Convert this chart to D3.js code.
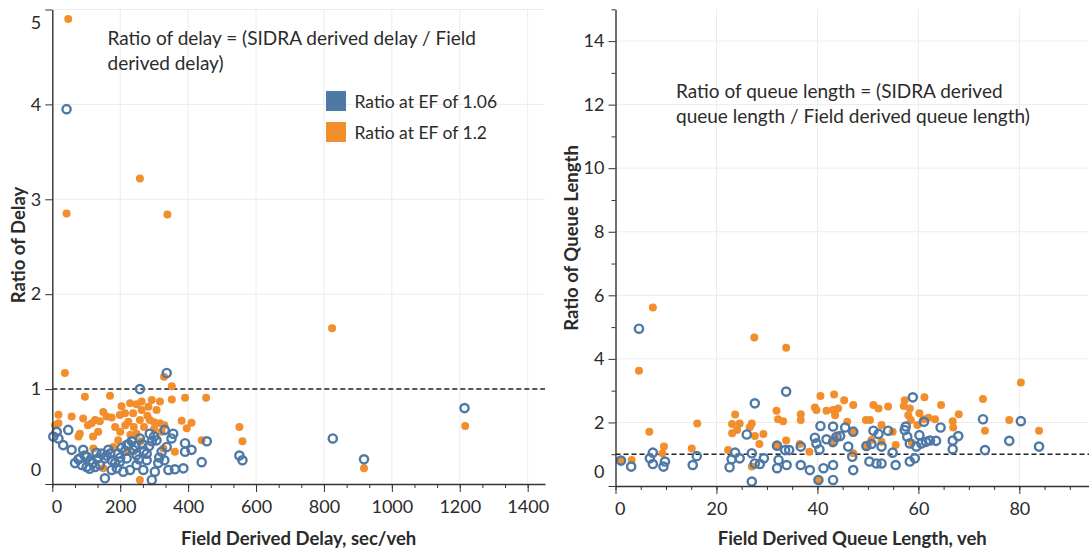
<!DOCTYPE html>
<html><head><meta charset="utf-8">
<script src="https://cdn.jsdelivr.net/npm/d3@7"></script>
<style>
body{margin:0;background:#fff}
text{font-family:Lato,"Noto Sans",sans-serif;fill:#2b2b2b}
</style>
</head><body>
<svg id="c" width="1089" height="550"></svg>
<script>
// ---------- DATA ----------
const delayTicks = [0,200,400,600,800,1000,1200,1400];
const delayRatioTicks = [0,1,2,3,4,5];
const queueTicks = [0,20,40,60,80];
const queueRatioTicks = [0,2,4,6,8,10,12,14];
const seriesNames = ["Ratio at EF of 1.06","Ratio at EF of 1.2"];

// [Field derived delay (sec/veh), ratio of delay]
const delayEF106 = [
 [42,3.95],[1214,0.80],[826,0.48],[918,0.26],[551,0.30],[560,0.25],[455,0.45],[440,0.23],[337,1.17],[258,1.0],
 [3,0.50],[13,0.55],[47,0.57],[18,0.48],[32,0.41],[57,0.36],[91,0.36],[77,0.26],[101,0.29],[101,0.18],[126,0.18],
 [135,0.27],[165,0.36],[155,0.27],[175,0.25],[155,0.06],[194,0.32],[204,0.38],[219,0.41],[234,0.45],[258,0.48],
 [287,0.53],[307,0.46],[331,0.57],[356,0.53],[351,0.48],[391,0.43],[410,0.36],[391,0.34],[190,0.165],[199,0.235],
 [229,0.148],[248,0.2],[268,0.148],[293,0.042],[302,0.13],[312,0.22],[342,0.148],[361,0.155],[386,0.165],[278,0.32],
 [248,0.305],[219,0.27],[175,0.148],[209,0.13],[322,0.34],[337,0.39],[293,0.45],[81,0.27],[67,0.22],[111,0.25],
 [145,0.32],[278,0.25],[238,0.36],
 [87,0.20],[120,0.22],[140,0.20],[160,0.30],[185,0.22],[95,0.30],[110,0.16],[130,0.33],[170,0.32],[200,0.28],
 [215,0.35],[225,0.42],[245,0.40],[265,0.42],[285,0.40],[300,0.50],[315,0.28],[330,0.25],[255,0.26],[270,0.35]
];
const delayEF12 = [
 [47,4.90],[42,2.85],[258,3.22],[339,2.84],[824,1.64],[1216,0.61],[918,0.165],[551,0.60],[560,0.45],[453,0.91],[440,0.46],
 [37,1.17],[329,1.13],[352,1.03],[96,0.92],[170,0.93],[391,0.91],[352,0.89],[317,0.87],[293,0.885],[263,0.87],
 [248,0.84],[229,0.85],[204,0.82],[283,0.815],[307,0.78],[263,0.78],[214,0.745],[238,0.745],[150,0.76],[160,0.71],
 [126,0.674],[116,0.64],[91,0.69],[57,0.71],[18,0.73],[18,0.64],[199,0.727],[224,0.657],[258,0.674],[287,0.674],
 [317,0.64],[381,0.667],[410,0.646],[396,0.587],[135,0.55],[81,0.53],[77,0.50],[8,0.62],[194,0.46],[248,0.53],
 [322,0.55],[121,0.375],[150,0.165],[258,0.042],[327,0.375],[361,0.34],[224,0.34],[179,0.39],[185,0.60],[270,0.60],[300,0.58],
 [105,0.62],[140,0.66],[175,0.70],[215,0.62],[240,0.60],[280,0.72],[300,0.65],[330,0.62],[120,0.50],[230,0.52],[260,0.45],[200,0.55]
];
// [Field derived queue length (veh), ratio of queue length]
const queueEF106 = [
 [4.65,4.95],[1.1,0.8],[3.1,0.61],[6.8,0.87],[7.4,1.05],[7.4,0.69],[9.5,0.61],[9.8,0.77],[15.3,0.66],[16.1,0.94],
 [22.6,0.59],[23,0.84],[23.7,1.05],[24.6,0.87],[26,1.62],[27,1.03],[27.6,2.6],[27,0.14],[27.6,0.71],[28.6,0.69],
 [29.4,0.87],[32,1.27],[32.3,0.82],[32,0.56],[33.6,1.13],[34.4,1.13],[33.9,0.66],[33.8,2.97],[36.7,1.24],[36.7,0.66],
 [38.5,0.5],[39.5,1.52],[39.8,1.34],[40.6,1.89],[40.2,0.19],[41.2,0.56],[41.8,1.47],[40.4,1.15],
 [58.9,2.79],[80.3,2.04],[72.8,2.1],[78,1.42],[83.9,1.24],[73.2,1.13],[67.9,1.57],[66.8,1.43],[66.8,1.16],[64.4,1.84],
 [63.5,1.42],[61.1,2.02],[62.3,1.43],[61.5,1.39],[60.6,1.34],[60.2,1.6],[59.6,1.24],[59.3,0.87],[58.3,0.77],[58.3,1.34],
 [57.8,1.55],[57.3,1.76],[57.5,1.87],[55.5,0.66],[54.9,1.05],[54,1.74],[52.7,0.71],[51.7,0.71],[52.7,1.24],[52.1,1.64],
 [51.1,1.74],[50.3,0.77],[50.7,1.32],[49.7,1.26],[47.1,1.71],[47.1,0.5],[46.9,0.92],[46.1,1.24],[45.5,1.84],[44.5,1.57],
 [43.8,1.55],[43.1,1.87],[43.1,1.39],[43.1,0.66],[43.1,0.19]
];
const queueEF12 = [
 [7.4,5.62],[4.65,3.63],[6.7,1.71],[9.6,1.24],[9.3,1.03],[16.2,1.97],[15.1,1.18],[1.1,0.8],[3.2,0.82],[27.5,4.67],
 [33.8,4.35],[23.7,2.25],[23.1,1.95],[24.6,1.97],[24.1,1.76],[23.1,1.66],[22.3,1.13],[27,1.97],[26.6,1.85],[27.6,1.57],
 [29.3,1.64],[28.5,1.32],[27,0.61],[31.9,2.37],[32.2,2.1],[33.2,2.04],[33.8,1.43],[36.7,2.26],[36.7,2.08],[36.5,1.32],
 [38.4,1.08],[39.5,2.47],[39.8,2.39],[40.6,2.83],[41.8,2.37],[40.2,0.19],[31.9,1.29],
 [80.3,3.26],[72.8,2.74],[78,2.08],[73.2,1.74],[83.9,1.74],[68,2.26],[66.8,2.04],[66.9,1.84],[64.5,2.55],[61.2,2.79],
 [63.3,2.1],[62,2.15],[61,2.1],[60.2,2.29],[59.8,1.92],[57.3,2.7],[57.1,2.52],[58.3,2.44],[58,2.23],[58.5,2.08],
 [58.7,1.36],[55.5,1.29],[54.9,1.71],[54,2.5],[52.1,2.44],[51.1,2.55],[52.7,1.92],[50.4,2.08],[49.6,2.08],[47.1,2.55],
 [45.9,2.02],[45.3,2.7],[44.1,2.44],[43.3,2.88],[43.1,2.39],[43.5,2.23],[47.1,1.68],[43.5,1.55],[50.7,1.45],[52.7,1.39],
 [49.7,1.24],[43,1.34],[47.1,1.03]
];
const referenceRatio = 1;
const colors = ["#4e79a7","#f28e2b"];

// ---------- DRAW ----------
const svg = d3.select("#c");
const FS = 18;

function panel(opt){
  const g = svg.append("g");
  const x = d3.scaleLinear().domain(opt.xDomain).range(opt.xRange);
  const y = d3.scaleLinear().domain(opt.yDomain).range(opt.yRange);
  // grid
  g.append("g").selectAll("line").data(opt.xTicks.filter(d=>d>0)).join("line")
    .attr("x1",d=>x(d)).attr("x2",d=>x(d)).attr("y1",y.range()[0]).attr("y2",y.range()[1])
    .attr("stroke","#ececec").attr("stroke-width",1);
  g.append("g").selectAll("line").data(opt.yTicks.filter(d=>d>0)).join("line")
    .attr("y1",d=>y(d)).attr("y2",d=>y(d)).attr("x1",x.range()[0]).attr("x2",x.range()[1])
    .attr("stroke","#ececec").attr("stroke-width",1);
  // reference line
  g.append("line").attr("x1",x.range()[0]).attr("x2",x.range()[1])
    .attr("y1",y(referenceRatio)).attr("y2",y(referenceRatio))
    .attr("stroke","#222").attr("stroke-width",1.5).attr("stroke-dasharray","5,3");
  // points
  g.append("g").selectAll("circle").data(opt.s2).join("circle")
    .attr("cx",d=>x(d[0])).attr("cy",d=>y(d[1])).attr("r",4).attr("fill",colors[1]);
  g.append("g").selectAll("circle").data(opt.s1).join("circle")
    .attr("cx",d=>x(d[0])).attr("cy",d=>y(d[1])).attr("r",4.1).attr("fill","none")
    .attr("stroke",colors[0]).attr("stroke-width",2.4);
  // minor ticks
  const gxm = g.append("g").attr("transform",`translate(0,${y.range()[0]})`)
    .call(d3.axisBottom(x).tickValues(opt.xMinor).tickSize(4).tickSizeOuter(0).tickFormat(""));
  gxm.select(".domain").remove();
  if(opt.yMinor){
    const gym = g.append("g").attr("transform",`translate(${x.range()[0]},0)`)
      .call(d3.axisLeft(y).tickValues(opt.yMinor).tickSize(4).tickSizeOuter(0).tickFormat(""));
    gym.select(".domain").remove();
  }
  // axes
  const fmt = d3.format("d");
  const gx = g.append("g").attr("transform",`translate(0,${y.range()[0]})`)
    .call(d3.axisBottom(x).tickValues(opt.xTicks).tickFormat(fmt).tickSize(8).tickPadding(8).tickSizeOuter(0));
  gx.selectAll("text").attr("font-size",FS).attr("font-family","Lato").attr("fill","#2b2b2b")
    .filter(d=>d===0).attr("text-anchor","start").attr("dx",-1);
  const gy = g.append("g").attr("transform",`translate(${x.range()[0]},0)`)
    .call(d3.axisLeft(y).tickValues(opt.yTicks).tickFormat(fmt).tickSize(7).tickPadding(4).tickSizeOuter(0));
  gy.selectAll("text").attr("font-size",FS).attr("font-family","Lato").attr("fill","#2b2b2b");
  gy.selectAll("text").filter(d=>d===0).attr("dy","-0.45em");
  gy.selectAll("text").filter(d=>d===opt.yDomain[1]).attr("dy","1.05em");
  [gx,gy].forEach(a=>{a.select(".domain").attr("stroke","#333").attr("stroke-width",1.4);});
  g.selectAll(".tick line").attr("stroke","#333");
  // titles
  g.append("text").attr("x",(x.range()[0]+x.range()[1])/2).attr("y",545)
    .attr("text-anchor","middle").attr("font-size",18.5).attr("font-weight","bold").text(opt.xTitle);
  g.append("text").attr("transform",`translate(${opt.yTitleX},${opt.yTitleY}) rotate(-90)`)
    .attr("text-anchor","middle").attr("dominant-baseline","central")
    .attr("font-size",18.5).attr("font-weight","bold").text(opt.yTitle);
  // annotation
  opt.note.forEach((t,i)=>{
    g.append("text").attr("x",opt.noteX).attr("y",opt.noteY+i*25).attr("dominant-baseline","central")
      .attr("font-size",19).text(t);
  });
  return {g,x,y};
}

panel({
  xDomain:[0,1451], xRange:[52.3,545], yDomain:[0,5], yRange:[484,9.5],
  xTicks:delayTicks, yTicks:delayRatioTicks,
  xMinor:d3.range(0,1451,200/3), yMinor:null,
  s1:delayEF106, s2:delayEF12,
  xTitle:"Field Derived Delay, sec/veh", yTitle:"Ratio of Delay", yTitleX:18, yTitleY:245,
  note:["Ratio of delay = (SIDRA derived delay / Field","derived delay)"], noteX:107.5, noteY:37
});
panel({
  xDomain:[0,93.8], xRange:[615.5,1089], yDomain:[0,15], yRange:[486,9.3],
  xTicks:queueTicks, yTicks:queueRatioTicks,
  xMinor:d3.range(0,94,5), yMinor:d3.range(1,16,2),
  s1:queueEF106, s2:queueEF12,
  xTitle:"Field Derived Queue Length, veh", yTitle:"Ratio of Queue Length", yTitleX:571, yTitleY:238,
  note:["Ratio of queue length = (SIDRA derived","queue length / Field derived queue length)"], noteX:676, noteY:90
});

// legend
const lg = svg.append("g");
seriesNames.forEach((n,i)=>{
  lg.append("rect").attr("x",326).attr("y",91+i*31).attr("width",20).attr("height",20).attr("fill",colors[i]);
  lg.append("text").attr("x",354.5).attr("y",101.5+i*31).attr("dominant-baseline","central")
    .attr("font-size",17.5).text(n);
});
</script>
</body></html>
